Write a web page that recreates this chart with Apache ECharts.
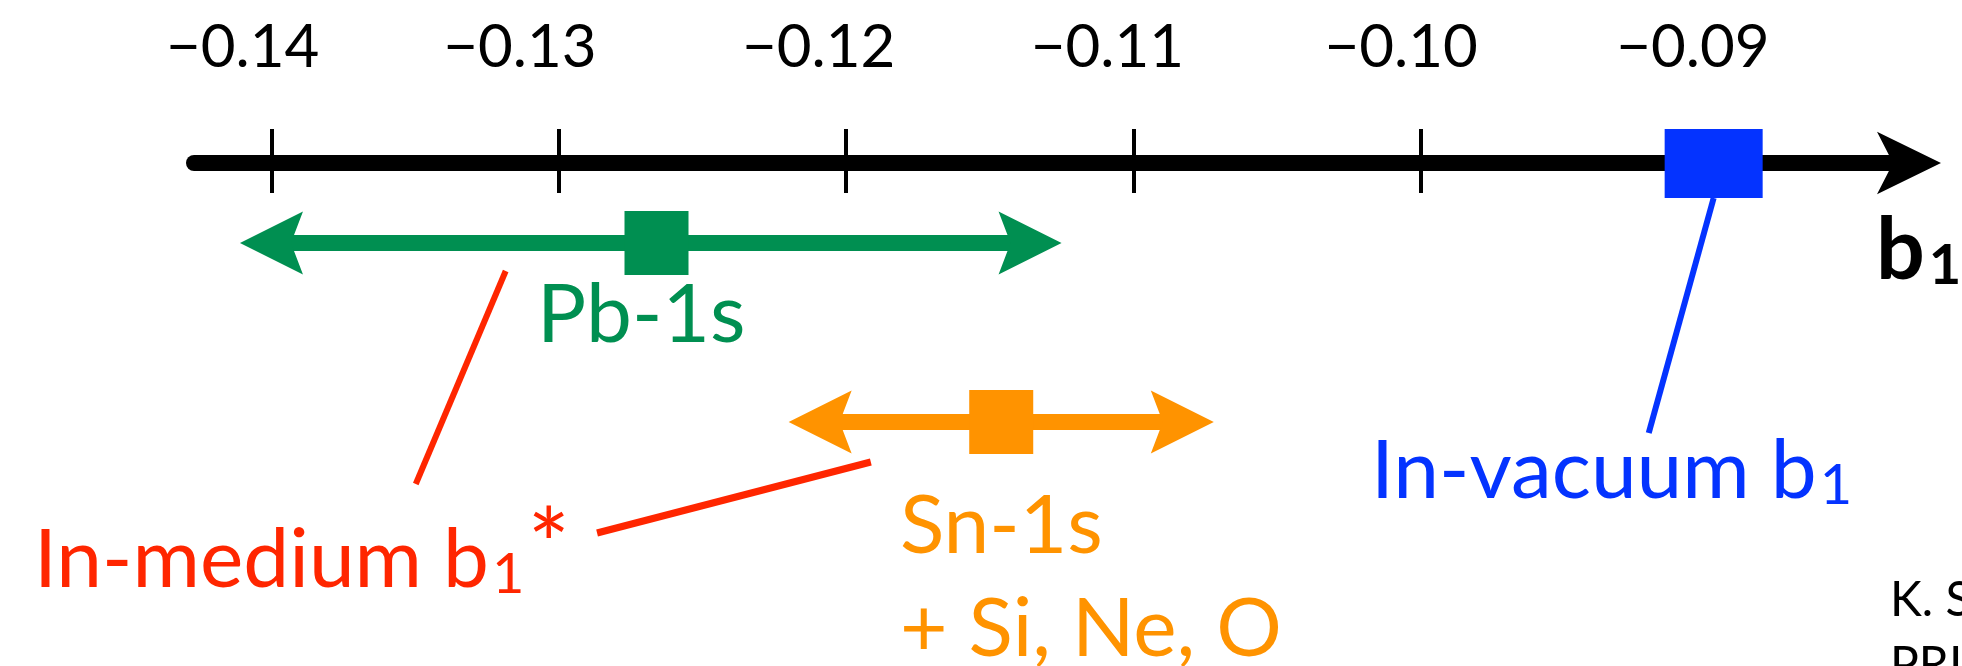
<!DOCTYPE html>
<html>
<head>
<meta charset="utf-8">
<script src="https://cdn.jsdelivr.net/npm/echarts@6/dist/echarts.min.js"></script>
<style>
html,body{margin:0;padding:0;background:#ffffff;}
#chart{width:1962px;height:666px;}
</style>
</head>
<body>
<div id="chart"></div>
<script>
// ---------------- data ----------------
const tickValues = [-0.14, -0.13, -0.12, -0.11, -0.10, -0.09];
const tickLabels = ['\u22120.14', '\u22120.13', '\u22120.12', '\u22120.11', '\u22120.10', '\u22120.09'];
const pbRange = [-0.1411, -0.1266, -0.1125];   // Pb-1s : low, central, high
const snRange = [-0.1220, -0.1146, -0.1072];   // Sn-1s (+ Si, Ne, O) : low, central, high
const vacuumB1 = [-0.0898];                    // in-vacuum b1

// ---------------- layout / style ----------------
const FONT = 'Lato, "Open Sans", sans-serif';
const GREEN = '#008F51', ORANGE = '#FF9300', BLUE = '#0433FF', RED = '#FF2600';
const X_MIN = -0.1427, X_MAX = -0.0830;
const ROW = { vac: 0.4, pb: 80, sn: 259 };     // px below the axis line (layout)
const K = 0.805;                                 // top = baseline - K*fontSize

const labelPad = [58, 78, 55, 52, 39, 30];
const tickRich = {};
labelPad.forEach(function (p, i) {
  tickRich['t' + i] = { fontSize: 60, lineHeight: 60, fontFamily: FONT, color: '#000', padding: [0, p, 0, 0] };
});

function rangeRenderer(color) {
  return function (params, api) {
    const row = api.value(3);
    const pL = api.coord([api.value(0), row]);
    const pC = api.coord([api.value(1), row]);
    const pH = api.coord([api.value(2), row]);
    const y = pL[1];
    const HL = 63, HW = 31.5, NOTCH = 12, LW = 16, SQ = 64;
    return {
      type: 'group',
      children: [
        { type: 'rect', shape: { x: pL[0] + HL - NOTCH - 2, y: y - LW / 2, width: (pH[0] - pL[0]) - 2 * (HL - NOTCH - 2), height: LW }, style: { fill: color } },
        { type: 'polygon', shape: { points: [[pL[0], y], [pL[0] + HL, y - HW], [pL[0] + HL - NOTCH, y], [pL[0] + HL, y + HW]] }, style: { fill: color } },
        { type: 'polygon', shape: { points: [[pH[0], y], [pH[0] - HL, y - HW], [pH[0] - HL + NOTCH, y], [pH[0] - HL, y + HW]] }, style: { fill: color } },
        { type: 'rect', shape: { x: pC[0] - SQ / 2, y: y - SQ / 2, width: SQ, height: SQ }, style: { fill: color } }
      ]
    };
  };
}

// leader lines: [x1, y1, x2, y2] (x in b1 units, y in layout px below axis)
const leaders = [
  { c: [vacuumB1[0], 35, -0.09206, 270], color: BLUE, w: 6 },
  { c: [-0.13185, 108, -0.13498, 321], color: RED, w: 6 },
  { c: [-0.11914, 299, -0.12867, 370], color: RED, w: 7 }
];

function rich(color, fs, weight) {
  return {
    fontSize: fs, lineHeight: fs, verticalAlign: 'top', fontFamily: FONT, fontWeight: weight || 'normal', fill: color
  };
}
function textEl(left, baseline, text, richDef, mainFs, mainPad) {
  return {
    type: 'text', x: left, y: baseline - K * mainFs - (mainPad || 0), z: 10,
    style: { text: text, rich: richDef, align: 'left', verticalAlign: 'top', textAlign: 'left', textVerticalAlign: 'top' }
  };
}
const FS = 82, SFS = 56;
const subPad = Math.round(K * FS + 6 - K * SFS);

function mk(color, weight, mainPad) {
  const p0 = mainPad || 0;
  const m = rich(color, FS, weight); m.padding = [p0, 0, 0, 0];
  const s = rich(color, SFS, weight); s.padding = [subPad + p0, 0, 0, 3];
  const a = rich(color, 100, weight); a.padding = [0, 0, 0, 3];
  return { m: m, s: s, a: a };
}

const option = {
  animation: false,
  backgroundColor: '#ffffff',
  grid: [
    { left: 194, right: 53, top: 163, bottom: 0 },
    { left: 194, right: 53, top: 163, height: 40 }
  ],
  xAxis: [
    {
      type: 'value', gridIndex: 0, position: 'top', min: X_MIN, max: X_MAX,
      axisLine: { show: true, onZero: false, symbol: ['none', 'arrow'], symbolSize: [47, 64], symbolOffset: [0, 32], lineStyle: { color: '#000', width: 16 } },
      axisTick: { show: true, inside: false, length: 34, customValues: tickValues, lineStyle: { color: '#000', width: 4 } },
      axisLabel: {
        show: true, customValues: tickValues, margin: 85,
        formatter: function (v) {
          let i = tickValues.findIndex(function (t) { return Math.abs(t - v) < 1e-9; });
          return '{t' + i + '|' + tickLabels[i] + '}';
        },
        rich: tickRich
      },
      splitLine: { show: false }
    },
    {
      type: 'value', gridIndex: 1, position: 'top', min: X_MIN, max: X_MAX,
      axisLine: { show: false, onZero: false },
      axisTick: { show: true, inside: true, length: 30, customValues: tickValues, lineStyle: { color: '#000', width: 4 } },
      axisLabel: { show: false },
      splitLine: { show: false }
    }
  ],
  yAxis: [
    { type: 'value', gridIndex: 0, inverse: true, min: 0, max: 503, show: false },
    { type: 'value', gridIndex: 1, min: 0, max: 1, show: false }
  ],
  series: [
    {
      name: 'leaders', type: 'custom', xAxisIndex: 0, yAxisIndex: 0, z: 3,
      data: leaders.map(function (l) { return l.c; }),
      encode: { x: [0, 2], y: [1, 3] },
      renderItem: function (params, api) {
        const L = leaders[params.dataIndex];
        const p1 = api.coord([api.value(0), api.value(1)]);
        const p2 = api.coord([api.value(2), api.value(3)]);
        return { type: 'line', shape: { x1: p1[0], y1: p1[1], x2: p2[0], y2: p2[1] }, style: { stroke: L.color, lineWidth: L.w } };
      }
    },
    {
      name: 'Pb-1s', type: 'custom', xAxisIndex: 0, yAxisIndex: 0, z: 4,
      data: [[pbRange[0], pbRange[1], pbRange[2], ROW.pb]],
      encode: { x: [0, 1, 2], y: 3 },
      renderItem: rangeRenderer(GREEN)
    },
    {
      name: 'Sn-1s', type: 'custom', xAxisIndex: 0, yAxisIndex: 0, z: 4,
      data: [[snRange[0], snRange[1], snRange[2], ROW.sn]],
      encode: { x: [0, 1, 2], y: 3 },
      renderItem: rangeRenderer(ORANGE)
    },
    {
      name: 'In-vacuum', type: 'scatter', xAxisIndex: 0, yAxisIndex: 0, z: 5,
      symbol: 'rect', symbolSize: [98, 69],
      itemStyle: { color: BLUE, opacity: 1 },
      data: [[vacuumB1[0], ROW.vac]]
    }
  ],
  graphic: [
    textEl(537, 341, '{m|Pb-1s}', mk(GREEN), FS),
    textEl(900, 552, '{m|Sn-1s}', mk(ORANGE), FS),
    textEl(900, 655, '{m|+ Si, Ne, O}', mk(ORANGE), FS),
    textEl(1371, 497, '{m|In-vacuum b}{s|1}', mk(BLUE), FS),
    textEl(34, 586, '{m|In-medium b}{s|1}{a|*}', mk(RED, 'normal', 20), FS, 20),
    textEl(1876, 277, '{m|b}{s|1}', (function () {
      const m = rich('#000', 86, 'bold');
      const s = rich('#000', 56, 'bold'); s.padding = [Math.round(K * 86 + 6 - K * 56), 0, 0, 4];
      return { m: m, s: s };
    })(), 86),
    {
      type: 'text', x: 1890, y: 615 - K * 48, z: 10,
      style: { text: 'K. Suzuki et al.,', font: '48px ' + FONT, fill: '#000', align: 'left', verticalAlign: 'top' }
    },
    {
      type: 'text', x: 1890, y: 680 - K * 48, z: 10,
      style: { text: 'PRL 92 (2004) 072302', font: '48px ' + FONT, fill: '#000', align: 'left', verticalAlign: 'top' }
    }
  ]
};

const chart = echarts.init(document.getElementById('chart'), null, { renderer: 'canvas' });
chart.setOption(option);
</script>
</body>
</html>
